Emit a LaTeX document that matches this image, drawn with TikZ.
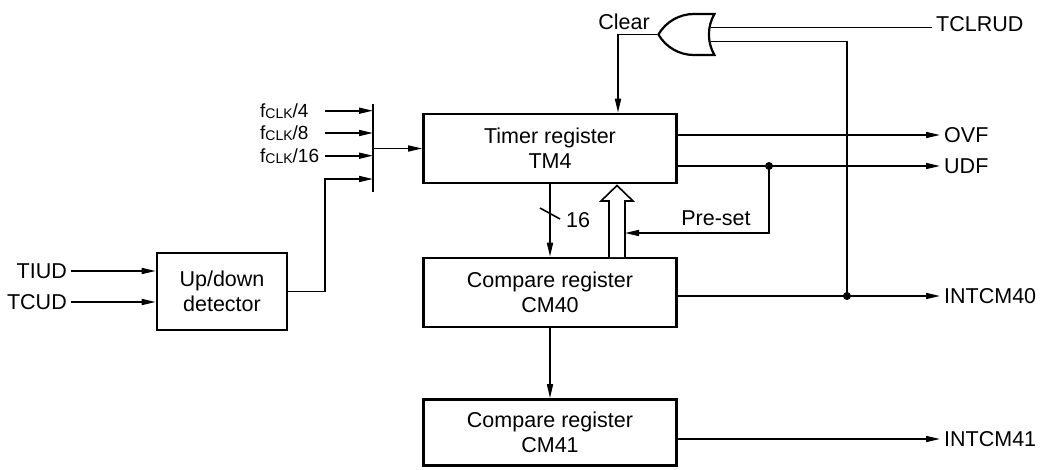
\documentclass[tikz,border=0pt]{standalone}
\usepackage{fontspec}
\setmainfont{Liberation Sans}
\usetikzlibrary{arrows.meta, positioning, calc, shapes.gates.logic.US}

\begin{document}
\begin{tikzpicture}[x=1pt, y=-1pt,
  every node/.style={font=\fontsize{21.5}{25}\selectfont, inner sep=4pt},
  reg/.style={draw, line width=2.6pt, minimum width=253pt, minimum height=69pt,
    align=center, inner sep=0pt},
  wire/.style={line width=1.6pt},
  clk/.style={font=\fontsize{19}{22}\selectfont, anchor=west},
  >={Triangle[length=14pt, width=6pt]}]
  \useasboundingbox (0,0) rectangle (1042,469);
  % registers
  \node[reg] (timer) at (550,148.5) {Timer register\\TM4};
  \node[reg] (cm40) at (550,292.5) {Compare register\\CM40};
  \node[reg, minimum height=66pt] (cm41) at (550,432.5) {Compare register\\CM41};
  \node[reg, minimum width=130pt, minimum height=77pt] (updn) at (222,291.5) {Up/down\\detector};
  \node[or gate US, draw, logic gate inputs=nn, rotate=180, line width=2.2pt,
    minimum width=55pt, minimum height=41pt] (clrgate) at (690.5,34.5) {};
  % outside signals
  \node[anchor=west] (tclrud) at (932,24) {TCLRUD};
  \node[anchor=west] (ovf) at (940,135) {OVF};
  \node[anchor=west] (udf) at (940,166) {UDF};
  \node[anchor=west] (int40) at (940,296) {INTCM40};
  \node[anchor=west] (int41) at (940,439) {INTCM41};
  \node[anchor=east] (tiud) at (71,271) {TIUD};
  \node[anchor=east] (tcud) at (71,302) {TCUD};
  \coordinate (bartop) at (373,104);
  \coordinate (barbot) at (373,192);
  \coordinate (selin) at (325,179);
  \coordinate (jset) at (769,166);
  \coordinate (j40) at (847,296);
  \coordinate (presetin) at (625,233);
  % count source select
  \foreach \n/\y in {4/110.7, 8/133, 16/155.7} {
    \node[clk] (f\n) at (256,\y) {f\raisebox{-1pt}{\fontsize{14}{14}\selectfont CLK}/\n};
    \draw[wire,->] (f\n -| selin) -- (f\n -| bartop);
  }
  \draw[wire] (bartop) -- (barbot);
  \draw[wire,->] (bartop |- timer.west) -- (timer.west);
  \draw[wire,->] (tiud) -- (tiud -| updn.west);
  \draw[wire,->] (tcud) -- (tcud -| updn.west);
  \draw[wire,->] (updn.east) -| (selin) -- (selin -| bartop);
  % clear
  \draw[wire,->] (clrgate.output) -| ($(timer.north)+(68,0)$);
  \node (clear) at (624,22) {Clear};
  \draw[wire] (clrgate.input 2) -- (clrgate.input 2 -| tclrud.west);
  \draw[wire] (clrgate.input 1) -| (j40);
  % outputs
  \draw[wire,->] (timer.east |- ovf) -- (ovf.west);
  \draw[wire,->] (timer.east |- udf) -- (udf.west);
  \draw[wire,->] (cm40.east |- j40) -- (int40.west);
  \draw[wire,->] (cm41.east |- int41) -- (int41.west);
  \fill (jset) circle[radius=4pt];
  \fill (j40) circle[radius=4pt];
  % compare path
  \draw[wire,->] (timer.south) -- (cm40.north);
  \draw[wire] (540,208) -- (560,219);
  \node (bw) at (578,220) {16};
  \draw[wire,->] (cm40.south) -- (cm41.north);
  \draw[wire,->] (jset) |- (presetin);
  \node (preset) at (716,218) {Pre-set};
  \draw[line width=1.6pt, fill=white] (609,257) -- (609,201) -- (601,201)
    -- (617,185.5) -- (633,201) -- (625,201) -- (625,257);
\end{tikzpicture}
\end{document}
